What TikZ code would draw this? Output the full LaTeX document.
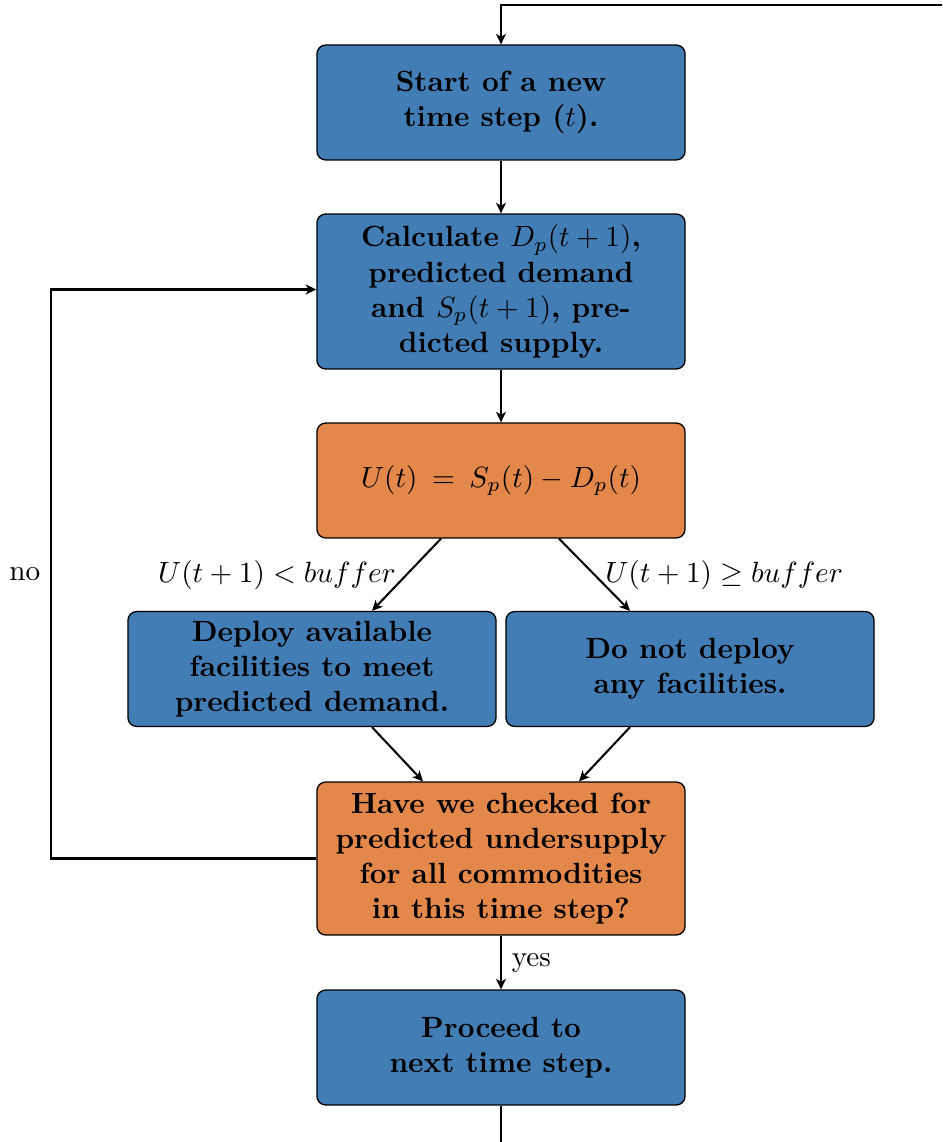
\documentclass[tikz,border=0pt]{standalone}
\usetikzlibrary{arrows.meta,calc}
\definecolor{boxblue}{RGB}{66,125,181}
\definecolor{boxorange}{RGB}{227,136,74}
\begin{document}
\begin{tikzpicture}[x=0.342pt,y=-0.342pt,
  box/.style={draw=black, line width=0.45pt, rounded corners=3pt, minimum width=125.9pt,
    minimum height=39.3pt, align=center, font=\bfseries, inner sep=0pt},
  bluebox/.style={box, fill=boxblue},
  orangebox/.style={box, fill=boxorange},
  arr/.style={line width=0.7pt, -{Stealth[length=3.6pt,width=3.4pt,inset=1pt]}},
  plain/.style={line width=0.7pt}]
\useasboundingbox (0,0) rectangle (942,1142);

\node[bluebox] (b1) at (501,102.5) {Start of a new\\ time step ($t$).};
\node[bluebox, minimum height=53pt] (b2) at (501,291.5)
  {Calculate $D_p(t+1)$,\\ predicted demand\\ and $S_p(t+1)$, pre-\\dicted supply.};
\node[orangebox, font=\normalfont] (b3) at (501,480.5) {$U(t)\:=\:S_p(t)-D_p(t)$};
\node[bluebox] (b4) at (312,669) {Deploy available\\ facilities to meet\\ predicted demand.};
\node[bluebox] (b5) at (690,669) {Do not deploy\\ any facilities.};
\node[orangebox, minimum height=52.3pt] (b6) at (501,858.5)
  {Have we checked for\\ predicted undersupply\\ for all commodities\\ in this time step?};
\node[bluebox] (b7) at (501,1047.5) {Proceed to\\ next time step.};

\coordinate (tr) at (942,5);
\coordinate (bt) at (501,1142);
\coordinate (lc) at (51,858.5);

\draw[arr] (tr) -| (b1.north);
\draw[arr] (b1) -- (b2);
\draw[arr] (b2) -- (b3);
\draw[arr] ($(b3.south)+(-60,0)$) -- node[left]{$U(t+1) < buffer$} ($(b4.north)+(60,0)$);
\draw[arr] ($(b3.south)+(58,0)$) -- node[right]{$U(t+1) \geq buffer$} ($(b5.north)+(-60,0)$);
\draw[arr] ($(b4.south)+(60,0)$) -- ($(b6.north)+(-78,0)$);
\draw[arr] ($(b5.south)+(-60,0)$) -- ($(b6.north)+(78,0)$);
\draw[arr] (b6) -- node[right]{yes} (b7);
\draw[arr] (b6.west) -- (lc) |- node[pos=0.25,left]{no} ($(b2.west)+(0,-2)$);
\draw[plain] (b7) -- (bt);
\end{tikzpicture}
\end{document}
